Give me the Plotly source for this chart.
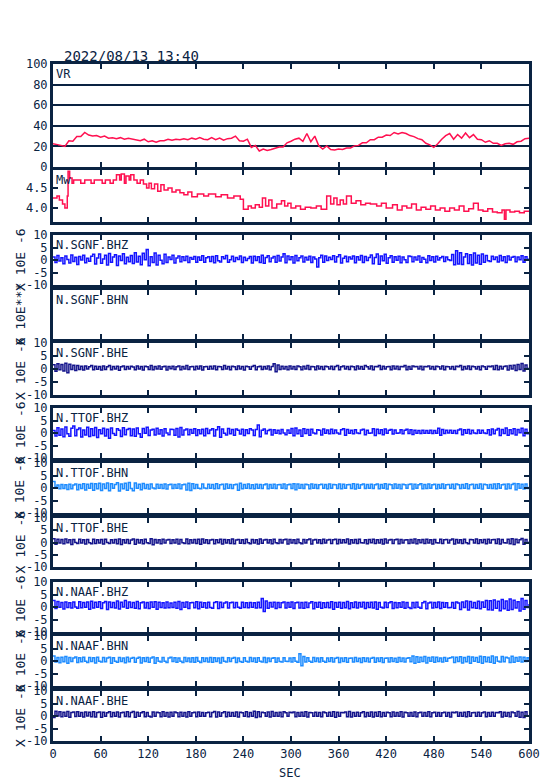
import plotly.graph_objects as go

# ---------------- data ----------------
TITLE = "2022/08/13 13:40"
X_TICKS = [0, 60, 120, 180, 240, 300, 360, 420, 480, 540, 600]

VR_T = list(range(0, 601, 5))
VR = [22.5, 22, 21, 20, 25.5, 25, 29.5, 29.5, 33.5, 31,
      30, 30.5, 29, 30, 28, 28.5, 27.5, 28.5, 27, 28,
      27, 26.5, 25.5, 27, 24.5, 25.5, 24, 25.5, 25.5, 27,
      26, 27, 26.5, 27.5, 26.5, 28, 27, 28.5, 27, 26.5,
      28.5, 26.5, 28, 26, 27.5, 28, 30, 25.5, 25, 27,
      19, 21, 15.5, 17.5, 16, 17, 18, 19.5, 19.5, 23.5,
      25, 27, 28, 25, 32.5, 24.5, 30, 20.5, 17.5, 20.5,
      17, 16.5, 17.5, 17, 18.5, 18.5, 20.5, 21, 23.5, 23.5,
      26.5, 26.5, 29, 29, 31, 30.5, 33.5, 32, 33.5, 32.5,
      30.5, 29.5, 27.5, 26.5, 23, 21.5, 19, 22.5, 27, 30.5,
      32.5, 27, 31.5, 28, 33, 28.5, 31.5, 27, 26.5, 24,
      25.5, 23, 23, 21, 22.5, 23, 22, 24.5, 25, 27.5,
      28]

MW_T = [0, 5, 8, 12, 15, 18, 19, 21, 24, 26, 32, 35, 40, 45, 48, 52, 60, 62, 66, 72,
        76, 80, 84, 86, 90, 92, 96, 98, 102, 106, 110, 114, 118, 121, 124, 128, 132,
        136, 140, 145, 150, 155, 160, 165, 170, 175, 182, 190, 196, 205, 212, 220,
        228, 236, 240, 246, 250, 255, 260, 264, 268, 272, 276, 282, 288, 292, 296,
        300, 306, 312, 318, 325, 332, 338, 345, 350, 354, 358, 362, 366, 370, 376,
        382, 388, 394, 400, 408, 414, 420, 428, 434, 440, 446, 452, 458, 464, 470,
        476, 482, 488, 494, 500, 506, 512, 518, 524, 530, 536, 542, 548, 554, 560,
        566, 569, 571, 576, 582, 588, 594, 600]
MW = [4.25, 4.3, 4.2, 4.1, 4.0, 4.3, 4.92, 4.75, 4.62, 4.7, 4.7, 4.62, 4.7, 4.7, 4.62,
      4.7, 4.7, 4.62, 4.7, 4.62, 4.7, 4.83, 4.7, 4.85, 4.62, 4.8, 4.7, 4.83, 4.7, 4.62,
      4.7, 4.6, 4.5, 4.62, 4.48, 4.6, 4.42, 4.58, 4.45, 4.5, 4.4, 4.45, 4.38, 4.33,
      4.4, 4.28, 4.35, 4.3, 4.35, 4.28, 4.33, 4.25, 4.3, 4.22, 3.97, 4.05, 4.0, 4.08,
      4.02, 4.25, 4.05, 4.2, 4.0, 4.1, 4.18, 4.05, 4.12, 4.0, 4.05, 3.97, 4.02, 4.0,
      4.05, 3.97, 4.3, 4.1, 4.25, 4.08, 4.2, 4.1, 4.3, 4.12, 4.18, 4.08, 4.12, 4.1,
      4.05, 4.12, 4.0, 4.08, 3.95, 4.05, 4.0, 4.1, 3.95, 4.02, 3.97, 4.05, 3.95, 4.0,
      3.92, 4.0, 3.95, 4.05, 3.92, 3.98, 4.12, 3.95, 3.92, 3.98, 3.9, 3.88, 3.95,
      3.72, 3.95, 3.9, 3.92, 3.88, 3.92, 3.9]

# seismic channels: one sample every 2.5 s, 0 .. 600 s
SEIS_DT = 2.5

SGNF_BHZ = [1.2, -1.0, 1.8, -0.4, 0.9, -1.5, 1.6, 0.2, -1.2, 2.0, -0.6, 1.1, -1.8, 1.4, 0.0, 1.9, -1.1, 0.7, -0.5, 1.5,
            2.3, -1.6, 0.8, 2.4, -1.3, 0.4, 1.9, -2.0, 2.6, -0.9, 1.2, 2.1, -2.2, 1.6, -0.2, 2.5, -1.5, 1.1, -0.7, 1.8,
            -1.4, 2.9, -0.8, 1.5, -1.9, 2.7, 0.1, 4.2, -2.3, 1.3, -1.0, 2.8, -2.0, 1.9, -0.1, -1.5, 2.3, -1.0, 1.2, 0.2,
            1.9, -1.2, 0.8, 1.6, -0.7, 1.3, -0.2, 1.5, -1.0, 1.0, 0.3, 1.4, -0.9, 1.2, -0.1, 1.7, -0.9, 0.9, 1.3, -0.6,
            1.4, -1.1, 1.7, -0.3, -0.8, 1.3, 0.5, 1.8, -0.9, 0.1, 1.5, -0.6, 1.0, 0.2, 1.6, -1.0, 1.1, -0.2, 0.6, 1.4,
            -1.2, 1.5, -0.2, 1.3, -1.0, 1.9, -1.3, 1.0, 1.7, -0.7, 0.8, 1.4, -0.9, 1.8, -0.4, 1.2, 2.5, -1.1, 1.6, 0.1,
            1.3, -1.2, 1.8, -0.3, 0.9, 1.6, -0.8, 1.1, 0.0, 1.5, -1.0, 1.2, 0.4, -2.8, 0.9, 1.9, -0.9, 1.6, -0.2, 1.1,
            0.2, 1.7, -0.8, 1.3, 2.1, -1.2, 0.7, 1.5, -0.7, 1.2, 0.4, 1.6, -1.1, 1.3, 0.0, 1.8, -1.0, 1.4, -0.2, 1.0,
            2.0, -1.5, 1.0, 2.4, -1.7, 1.6, -0.3, 2.3, -1.3, 0.9, 1.7, -0.9, 1.3, -0.1, 1.5, -1.1, 1.2, 0.1, -1.0, 1.6,
            1.4, -0.7, 1.2, 0.0, 1.6, -0.9, 1.0, 0.3, -1.1, 1.7, -0.2, 1.3, -0.8, 1.5, 0.0, 0.9, 1.4, -0.6, 1.2, 0.1,
            -0.2, 2.2, -1.9, 3.7, -1.6, 2.9, -1.8, 1.2, 2.5, -1.4, 2.1, -2.0, 2.8, -1.2, 1.9, -1.7, 2.4, -0.9, 1.8, -0.3,
            -0.6, 1.5, 0.2, 1.2, -0.8, 1.8, -0.3, 1.3, -1.0, 1.6, 0.0, 1.1, 1.4, -0.7, 1.2, 0.1, 1.7, -0.9, 1.3, 0.3,
            0.4]

SGNF_BHE = [1.6, -0.9, 2.0, -0.3, 1.7, -0.8, 2.2, -1.4, 1.8, -0.2, 1.4, -0.6, 1.3, -0.2, 1.1, -0.4, 1.2, 0.0, 0.9, 1.3,
            -0.3, 1.1, -0.1, 1.0, -0.4, 1.2, -0.2, 0.9, 1.3, -0.3, 1.0, 0.0, 1.1, -0.5, 0.9, 1.2, -0.2, 1.0, 0.0, 1.1,
            0.8, -0.3, 1.2, 0.0, 1.0, -0.4, 1.1, 0.9, -0.2, 1.3, -0.3, 1.0, 0.0, 1.2, -0.1, 0.9, 1.1, -0.4, 1.0, 0.1,
            1.1, -0.2, 0.9, 1.2, -0.3, 1.0, 0.0, 1.3, -0.2, 0.9, 1.0, -0.3, 1.1, 0.0, 1.2, -0.4, 0.9, 1.0, -0.1, 1.1,
            0.0, 1.2, -0.3, 1.0, 0.9, -0.2, 1.3, 0.0, 1.0, -0.3, 1.1, 0.9, -0.2, 1.2, 0.0, 1.0, -0.4, 1.1, 0.9, -0.1,
            1.0, 1.3, -0.3, 0.9, 1.1, -0.2, 1.0, 0.0, 1.2, -0.3, 1.0, 2.0, -1.1, 1.5, -0.2, 1.1, 0.0, 1.0, -0.3, 1.2,
            0.0, 1.0, -0.2, 1.2, 0.9, -0.3, 1.1, 0.0, 1.3, -0.2, 1.0, 0.9, -0.3, 1.2, 0.0, 1.0, -0.2, 1.1, 0.9, 0.0,
            1.1, -0.2, 1.0, 1.3, -0.3, 0.9, 1.2, 0.0, 1.0, -0.2, 1.1, 0.9, -0.3, 1.2, 0.0, 1.0, -0.1, 1.3, 0.9, 0.0,
            1.2, -0.3, 1.0, 0.9, 1.3, -0.2, 1.1, 0.0, 0.9, 1.0, -0.3, 1.2, 0.0, 1.1, -0.2, 1.0, 0.9, 1.3, -0.3, 1.0,
            -0.1, 1.2, 0.9, 1.0, 0.0, 1.1, -0.3, 1.0, 0.9, 1.2, 0.0, 1.0, -0.2, 1.1, 0.9, 0.0, 1.2, -0.3, 1.0, 0.9,
            0.0, 1.0, -0.2, 1.1, 0.9, 1.3, -0.3, 1.0, 0.0, 1.2, -0.2, 1.1, 0.9, 0.0, 1.0, -0.3, 1.2, 0.9, -0.1, 1.1,
            0.9, 1.2, -0.2, 1.3, -0.3, 1.1, 0.0, 1.0, 1.2, -0.4, 1.3, 0.0, 1.4, -0.6, 1.7, -0.2, 2.1, -0.8, 1.5, 0.2,
            0.5]

TTOF_BHZ = [1.0, -1.2, 2.1, -0.9, 1.6, -1.5, 2.4, -0.3, -1.3, 1.9, 2.8, -1.1, 1.4, 2.0, -1.6, 1.2, -0.8, 2.3, -1.4, 1.7,
            -1.0, 2.2, -1.8, 1.3, -0.3, 1.9, -1.2, 1.5, -2.1, 2.0, -0.2, -0.9, 1.7, 1.1, -1.4, 2.1, -0.7, 1.4, 1.8, -1.1,
            1.6, -1.3, 2.0, -0.3, -1.7, 1.8, -0.1, 2.3, -1.0, 1.2, 1.5, -0.8, 1.9, -0.4, 1.3, -1.2, 1.7, 0.0, -0.7, 1.5,
            1.4, -0.9, 1.8, -1.6, 2.2, -0.8, 1.2, 1.6, -0.7, 1.4, -0.1, 1.7, -1.0, 1.3, -0.3, 1.5, -1.1, 1.8, -0.2, 1.2,
            1.7, -1.2, 1.3, 2.5, -1.7, 1.6, -0.1, -0.8, 1.8, -0.3, 1.4, -0.9, 1.6, 1.1, -0.4, 1.5, -1.0, 1.3, -0.2, 1.7,
            1.2, -1.0, 1.4, 3.2, -1.5, 1.1, 1.6, -0.3, 1.0, 1.4, -0.8, 1.3, -0.1, 1.1, -0.3, 1.4, 0.0, -0.7, 1.2, -0.1,
            1.8, -1.1, 2.0, -0.3, 1.2, -1.3, 1.7, -0.2, 1.4, -0.9, 1.5, 0.0, -0.3, 1.3, 1.1, -0.8, 1.6, -0.1, 1.2, -0.3,
            1.5, -0.2, 1.2, 0.0, -0.4, 1.3, 1.7, -0.9, 1.4, -0.1, 1.1, -0.3, 1.3, 0.0, -0.2, 1.2, 1.5, -0.7, 1.1, -0.1,
            0.0, 1.7, -1.0, 1.5, -0.2, 1.3, -0.7, 1.6, -0.1, 1.1, 1.4, -0.4, 1.2, -0.1, 0.0, 1.3, -0.3, 1.1, 1.5, -0.2,
            1.3, -0.6, 1.1, -0.1, 1.0, -0.2, 1.1, -0.1, 1.0, -0.1, 1.1, -0.2, 1.0, -0.1, 1.9, -0.9, 1.4, -0.2, 1.1, 0.0,
            1.1, -0.1, 1.0, -0.2, 1.2, 1.6, -0.7, 1.3, -0.1, 1.4, -0.3, 1.1, 0.0, -0.2, 1.2, -0.1, 1.1, 0.0, -0.2, 1.3,
            -0.8, 1.6, -0.3, 1.2, 1.8, -1.0, 1.4, -0.2, 2.0, -0.9, 1.3, -0.3, 1.7, -0.8, 1.4, 0.1, 1.9, -1.1, 1.5, -0.3,
            0.5]

TTOF_BHN = [2.6, 0.4, 1.2, -0.3, 1.4, -0.2, 1.3, -0.6, 1.5, -0.3, 1.2, 1.6, -0.7, 1.4, -0.2, 1.7, -0.8, 1.5, -0.1, 1.8,
            -0.9, 1.7, -0.3, 1.9, -1.0, 1.6, -0.2, 2.0, -1.1, 1.7, -0.1, 1.4, 2.1, -1.2, 1.6, -0.3, 1.9, -0.9, 2.2, -0.2,
            -1.1, 2.0, -0.1, 1.5, -0.7, 1.8, -0.2, 1.4, -0.4, 1.6, 0.0, -0.3, 1.5, -0.1, 1.4, -0.2, 1.6, -0.4, 1.3, 1.5,
            -0.2, 1.4, -0.1, 1.6, -0.3, 1.3, 1.5, -0.8, 1.9, -1.0, 1.7, -0.2, 1.4, -0.1, -0.3, 1.6, 0.0, -0.2, 1.5, -0.1,
            1.4, -0.3, 1.7, -0.2, 1.3, 1.5, -0.4, 1.6, -0.1, 1.4, -0.2, 1.3, 1.5, -0.9, 1.9, -0.3, 1.4, -0.1, 1.6, -0.2,
            1.3, -0.3, 1.5, -0.1, 1.4, -0.2, 1.3, 1.6, -0.3, 1.4, -0.1, 1.5, -0.2, 1.3, 1.4, -0.1, 1.6, -0.3, 1.3, 1.5,
            -0.2, 1.7, -0.7, 1.6, -0.1, 1.4, -0.2, 1.5, 1.3, -0.3, 1.6, -0.1, 1.4, -0.2, 1.3, 1.5, -0.1, 1.4, -0.3, 1.6,
            -0.1, 1.4, 1.3, -0.2, 1.6, -0.3, 1.5, -0.1, 1.3, 1.4, -0.2, 1.7, -0.4, 1.5, -0.1, 1.3, 1.6, -0.2, 1.4, -0.1,
            1.5, -0.2, 1.3, 1.6, -0.3, 1.4, -0.1, 1.7, -0.4, 1.5, 1.3, -0.2, 1.6, -0.1, 1.4, -0.3, 1.5, 1.3, -0.1, 1.4,
            1.6, -0.4, 1.5, -0.1, 1.3, 1.7, -0.3, 1.4, -0.2, 1.6, -0.1, 1.3, 1.5, -0.3, 1.4, -0.1, 1.6, -0.2, 1.3, 1.4,
            -0.1, 1.5, -0.3, 1.6, 1.3, -0.2, 1.4, -0.1, 1.7, -0.3, 1.3, 1.5, -0.2, 1.4, -0.1, 1.6, -0.4, 1.5, 1.3, -0.1,
            1.4, -0.2, 1.6, -0.3, 1.7, -0.1, 1.3, 1.5, -0.4, 1.6, -0.2, 1.4, 1.8, -0.7, 1.7, -0.1, 1.5, -0.4, 1.6, -0.2,
            0.5]

TTOF_BHE = [1.5, -0.7, 1.3, -0.2, 1.2, -0.5, 1.4, -0.1, 1.1, -0.8, 1.2, 0.0, -0.4, 1.3, -0.2, 1.1, -0.6, 1.2, -0.1, -0.5,
            1.3, -0.4, 1.1, -0.2, 1.2, -0.6, 1.3, 0.0, -0.4, 1.1, -0.2, 1.2, -0.5, 1.4, -0.8, 1.1, -0.2, 1.2, -0.4, 1.0,
            1.4, -0.7, 1.2, -0.2, 1.1, -0.5, 1.3, -0.1, -0.4, 1.5, -0.9, 1.2, -0.2, 1.1, -0.5, 1.3, -0.2, 1.0, 1.2, -0.4,
            1.1, -0.2, 1.3, -0.6, 1.2, -0.1, -0.4, 1.4, -0.5, 1.1, -0.2, 1.2, -0.4, 1.3, -0.7, 1.4, -0.2, 1.1, -0.4, 1.0,
            1.2, -0.5, 1.1, -0.1, 1.3, -0.6, 1.2, -0.2, 1.1, -0.4, 1.4, -0.5, 1.0, 1.2, -0.3, 1.1, -0.4, 1.3, -0.1, -0.5,
            1.2, -0.2, 1.1, -0.6, 1.4, -0.3, 1.0, 1.2, -0.2, 1.1, -0.5, 1.3, -0.1, -0.4, 1.2, -0.2, 1.1, 1.3, -0.6, 1.2,
            -0.2, 1.1, -0.4, 1.3, -0.1, -0.5, 1.2, -0.2, 1.1, 1.4, -0.6, 1.0, 1.2, -0.2, 1.1, -0.4, 1.3, -0.2, 1.0, 1.2,
            -0.4, 1.1, 1.3, -0.5, 1.2, -0.2, 1.1, -0.1, 1.4, -0.6, 1.1, -0.2, 1.2, -0.4, 1.3, -0.1, -0.2, 1.1, -0.5, 1.2,
            -0.1, 1.3, -0.4, 1.1, -0.2, 1.2, -0.6, 1.4, -0.2, 1.0, 1.2, -0.4, 1.1, 1.3, -0.5, 1.2, -0.2, 1.0, 1.1, -0.4,
            1.2, -0.2, 1.4, -0.5, 1.1, -0.1, 1.2, -0.4, 1.3, -0.2, 1.1, -0.6, 1.2, -0.1, -0.2, 1.3, -0.4, 1.1, 1.2, -0.2,
            1.0, 1.4, -0.6, 1.2, -0.2, 1.1, -0.4, 1.3, -0.1, -0.5, 1.2, 1.1, -0.2, 1.4, -0.4, 1.1, -0.1, 1.2, -0.5, 1.3,
            -0.2, 1.1, 1.2, -0.4, 1.4, -0.6, 1.2, -0.1, -0.2, 1.3, -0.5, 1.5, -0.8, 1.3, -0.1, 1.1, 1.6, -0.7, 1.2, -0.2,
            0.4]

NAAF_BHZ = [2.6, -0.6, 2.2, -0.1, 1.8, -0.8, 2.0, -0.2, 1.7, -0.4, 2.0, 0.0, -0.5, 2.1, -0.3, 1.8, -0.1, 2.0, -0.9, 2.3,
            -0.4, 1.9, -0.1, 2.1, -0.6, 1.7, 2.2, -1.0, 2.0, -0.2, 1.8, -0.4, 2.4, -0.8, 1.9, 0.0, 2.6, -0.5, 2.0, -0.2,
            1.8, -0.5, 2.2, -0.7, 1.7, 2.0, -0.4, 1.8, -0.6, 2.0, -0.1, 2.1, -0.9, 1.9, -0.2, 1.7, -0.4, 2.0, -0.3, 1.6,
            -0.2, 1.9, -0.5, 2.2, -1.0, 1.8, -0.1, 2.0, -0.6, 1.7, 1.8, -0.3, 2.1, -0.7, 1.9, -0.1, 1.7, -0.4, 1.9, -0.2,
            -0.5, 1.8, 2.1, -0.6, 1.9, -0.2, 1.6, 2.0, -0.4, 1.7, 1.9, -0.3, 1.8, -0.1, -0.5, 1.9, -0.2, 1.7, -0.3, 1.8,
            -0.1, 1.7, -0.4, 1.9, -0.3, 3.4, -1.8, 2.4, -0.5, 1.8, 0.0, 1.9, -0.6, 1.8, -0.2, 1.7, 2.0, -0.4, 1.8, -0.1,
            2.0, -0.6, 1.7, 1.9, -0.4, 1.8, -0.5, 1.9, -0.2, 1.6, 2.1, -0.7, 1.8, -0.1, 1.9, -0.5, 1.7, -0.2, 1.8, -0.3,
            2.1, -0.9, 1.8, -0.1, 1.9, -0.5, 1.8, -0.3, 2.2, -0.7, 1.7, -0.2, 2.0, -0.4, 1.8, 0.0, 1.9, -0.6, 1.8, -0.2,
            1.9, -0.4, 2.0, -0.9, 1.8, -0.1, -0.4, 1.9, -0.2, 1.7, 2.1, -0.6, 1.8, -0.3, 1.7, -0.1, 2.0, -0.5, 1.8, -0.2,
            -0.6, 1.8, -0.3, 1.9, -0.1, -0.5, 1.7, 2.2, -0.7, 1.6, 1.9, -0.4, 1.8, -0.2, 2.0, -0.6, 1.8, -0.1, 1.7, -0.3,
            -0.2, 1.8, -0.5, 2.0, 1.6, -1.0, 2.0, -0.2, 2.4, -1.2, 2.2, -0.3, 1.8, -0.5, 2.3, -0.7, 2.0, -0.1, 2.6, -1.1,
            2.5, -1.2, 2.8, -0.5, 2.3, -1.5, 3.0, -0.7, 2.4, -1.3, 3.2, -1.0, 2.7, -0.4, 2.1, -1.6, 3.4, -0.9, 2.6, -0.2,
            1.2]

NAAF_BHN = [2.0, -0.4, 1.4, -0.7, 1.5, -0.3, 1.8, -0.9, 1.4, -0.2, 1.2, 1.6, -0.6, 1.3, -0.3, 1.5, -0.1, -0.6, 1.4, -0.2,
            1.3, -0.8, 1.5, -0.1, -0.4, 1.4, -0.3, 1.2, 1.5, -0.9, 1.3, -0.1, -0.5, 1.4, -0.2, 1.2, -0.7, 1.5, -0.3, 1.1,
            1.4, -0.5, 1.1, 1.5, -0.8, 1.3, -0.2, 1.4, -0.5, 1.2, 1.6, -0.9, 1.3, -0.1, -0.4, 1.4, -0.1, -0.6, 1.2, 1.5,
            -0.2, 1.3, -0.5, 1.2, -0.1, -0.6, 1.4, -0.2, 1.2, -0.4, 1.3, -0.5, 1.4, -0.1, -0.6, 1.3, -0.2, 1.2, -0.4, 1.4,
            -0.5, 1.3, -0.2, 1.2, -0.8, 1.4, -0.1, -0.4, 1.3, -0.2, 1.1, 1.4, -0.6, 1.2, -0.2, -0.5, 1.3, -0.1, -0.4, 1.4,
            -0.2, 1.2, -0.5, 1.3, -0.1, -0.4, 1.4, -0.6, 1.2, -0.2, 1.1, 1.3, -0.5, 1.2, -0.2, -0.4, 1.3, -0.1, -0.2, 1.2,
            -0.4, 1.3, -0.1, -0.5, 2.9, -1.9, 1.8, -0.4, 1.3, -0.1, -0.5, 1.4, -0.2, 1.2, -0.4, 1.3, -0.1, -0.5, 1.2, -0.2,
            1.3, -0.4, 1.1, 1.4, -0.6, 1.2, -0.2, 1.3, -0.5, 1.1, 1.2, -0.4, 1.4, -0.2, 1.1, -0.6, 1.3, -0.2, 1.2, -0.4,
            1.1, 1.4, -0.5, 1.2, -0.2, 1.3, -0.6, 1.1, 1.2, -0.4, 1.3, -0.2, 1.1, -0.5, 1.4, -0.2, 1.2, -0.4, 1.1, 1.3,
            -0.3, 2.0, -0.9, 1.7, -0.5, 1.5, -0.2, 1.8, -0.8, 1.4, -0.1, 1.6, -0.5, 1.5, -0.2, 1.2, -0.4, 1.4, -0.1, 1.1,
            1.3, 1.6, -0.6, 1.5, -0.2, 1.7, -0.8, 1.4, -0.3, 1.8, -0.9, 1.6, -0.1, 1.4, -0.5, 1.9, -0.9, 1.7, -0.3, 1.5,
            -0.5, 2.0, -0.9, 1.6, -0.1, -0.4, 1.8, -0.3, 1.5, 1.2, -0.6, 1.9, -0.5, 1.4, -0.1, 1.6, -0.4, 1.5, -0.2, 1.3,
            0.3]

NAAF_BHE = [-0.6, 1.9, 0.0, 1.7, -0.3, 1.5, -0.1, 1.8, -0.5, 1.4, 1.6, -0.2, 1.7, -0.1, 1.4, -0.4, 1.6, 0.0, 1.5, -0.3,
            1.7, -0.4, 1.4, 1.6, -0.5, 1.5, -0.1, 1.3, 1.7, -0.3, 1.4, -0.1, 1.6, -0.4, 1.3, 1.5, -0.2, 1.7, -0.3, 1.4,
            1.8, -0.5, 1.5, -0.1, 1.3, 1.7, -0.3, 1.4, -0.1, -0.4, 1.6, -0.1, 1.5, 1.3, -0.3, 1.7, -0.1, 1.4, -0.4, 1.5,
            -0.1, 1.6, 1.3, -0.3, 1.5, -0.1, 1.4, -0.4, 1.7, -0.1, 1.3, 1.5, -0.3, 1.6, -0.1, 1.4, -0.1, 1.3, 1.5, -0.3,
            1.4, 1.8, -0.4, 1.6, -0.1, 1.3, 1.7, -0.3, 1.5, -0.1, 1.4, -0.1, 1.6, -0.4, 1.5, 1.3, -0.1, 1.7, -0.3, 1.4,
            -0.1, 1.9, -0.6, 1.7, -0.3, 1.5, 1.3, -0.1, 1.6, -0.4, 1.8, -0.1, 1.4, -0.1, 1.5, -0.3, 1.7, 1.3, -0.1, 1.5,
            1.3, 1.6, -0.3, 1.4, -0.1, 1.5, -0.1, 1.7, -0.4, 1.4, 1.3, -0.1, 1.5, -0.1, 1.4, -0.3, 1.6, 1.3, -0.1, 1.5,
            -0.1, 1.7, -0.5, 1.5, -0.1, 1.4, 1.3, 1.6, -0.3, 1.8, -0.4, 1.4, -0.1, 1.5, -0.1, 1.3, 1.7, -0.3, 1.4, -0.1,
            1.6, -0.4, 1.5, -0.1, 1.7, -0.3, 1.4, -0.1, 1.5, 1.3, -0.3, 1.6, -0.1, 1.4, -0.1, 1.7, -0.4, 1.5, 1.3, -0.1,
            1.4, -0.1, 1.6, -0.3, 1.3, 1.5, -0.1, 1.4, -0.1, 1.7, -0.3, 1.3, 1.5, -0.1, 1.4, -0.1, 1.3, 1.5, -0.1, 1.4,
            -0.4, 1.5, 1.3, 1.6, -0.1, 1.4, -0.1, 1.5, -0.3, 1.7, -0.1, 1.3, 1.4, -0.1, 1.5, -0.1, 1.3, 1.6, -0.3, 1.4,
            -0.1, 1.5, -0.1, 1.4, 1.3, 1.7, -0.4, 1.5, -0.1, 1.4, -0.3, 1.6, 1.3, -0.1, 1.8, -0.5, 1.5, -0.6, 1.7, -0.1,
            0.4]

SEIS_TICKVALS = [-10, -5, 0, 5, 10]
SEIS_TICKTEXT = ["-10", "-5", "0", "5", "10"]


def seis_t(values):
    return [i * SEIS_DT for i in range(len(values))]


# ---------------- style / layout ----------------
BODY = 8                      # default page margin of the html body
PAGE_W, PAGE_H = 554, 781
W, H = PAGE_W - BODY, PAGE_H - BODY
PL, PR, PT, PB = 53, 529, 64, 741     # plot area in page pixels
ML, MT = PL - BODY, PT - BODY
MR = W - (PR - BODY)
MB = H - (PB - BODY)
PW, PH = PR - PL, PB - PT

FRAME = "#0a2342"
TXT = "#0a2342"
RED = "#ff1050"
BLUE = "#1414ff"
LBLUE = "#1e8cff"
NAVY = "#14148c"
FONT = "DejaVu Sans Mono"

# panel pixel extents in page pixels (top, bottom)
PANEL_PX = [(64, 167), (170, 222), (235, 285), (290, 339), (343, 395),
            (408, 458), (463, 513), (518, 567), (582, 632), (636, 686), (691, 741)]

panels = [
    dict(label="VR", x=VR_T, y=VR, color=RED, shape="linear", rng=[0, 100],
         tv=[0, 20, 40, 60, 80, 100], tt=["0", "20", "40", "60", "80", "100"], grid=True, ytitle=None),
    dict(label="Mw", x=MW_T, y=MW, color=RED, shape="hv", rng=[3.65, 4.95],
         tv=[4.0, 4.5], tt=["4.0", "4.5"], grid=False, ytitle=None),
    dict(label="N.SGNF.BHZ", x=seis_t(SGNF_BHZ), y=SGNF_BHZ, color=BLUE, shape="hv", rng=[-10, 10],
         tv=SEIS_TICKVALS, tt=SEIS_TICKTEXT, grid=False, ytitle="X 10E -6"),
    dict(label="N.SGNF.BHN", x=None, y=None, color=LBLUE, shape="hv", rng=[-10, 10],
         tv=[], tt=[], grid=False, ytitle="X 10E***"),
    dict(label="N.SGNF.BHE", x=seis_t(SGNF_BHE), y=SGNF_BHE, color=NAVY, shape="hv", rng=[-10, 10],
         tv=SEIS_TICKVALS, tt=SEIS_TICKTEXT, grid=False, ytitle="X 10E -6"),
    dict(label="N.TTOF.BHZ", x=seis_t(TTOF_BHZ), y=TTOF_BHZ, color=BLUE, shape="hv", rng=[-10, 10],
         tv=SEIS_TICKVALS, tt=SEIS_TICKTEXT, grid=False, ytitle="X 10E -6"),
    dict(label="N.TTOF.BHN", x=seis_t(TTOF_BHN), y=TTOF_BHN, color=LBLUE, shape="hv", rng=[-10, 10],
         tv=SEIS_TICKVALS, tt=SEIS_TICKTEXT, grid=False, ytitle="X 10E -6"),
    dict(label="N.TTOF.BHE", x=seis_t(TTOF_BHE), y=TTOF_BHE, color=NAVY, shape="hv", rng=[-10, 10],
         tv=SEIS_TICKVALS, tt=SEIS_TICKTEXT, grid=False, ytitle="X 10E -6"),
    dict(label="N.NAAF.BHZ", x=seis_t(NAAF_BHZ), y=NAAF_BHZ, color=BLUE, shape="hv", rng=[-10, 10],
         tv=SEIS_TICKVALS, tt=SEIS_TICKTEXT, grid=False, ytitle="X 10E -6"),
    dict(label="N.NAAF.BHN", x=seis_t(NAAF_BHN), y=NAAF_BHN, color=LBLUE, shape="hv", rng=[-10, 10],
         tv=SEIS_TICKVALS, tt=SEIS_TICKTEXT, grid=False, ytitle="X 10E -6"),
    dict(label="N.NAAF.BHE", x=seis_t(NAAF_BHE), y=NAAF_BHE, color=NAVY, shape="hv", rng=[-10, 10],
         tv=SEIS_TICKVALS, tt=SEIS_TICKTEXT, grid=False, ytitle="X 10E -6"),
]

fig = go.Figure()
layout = {}
annotations = []
n = len(panels)
for i, p in enumerate(panels):
    k = "" if i == 0 else str(i + 1)
    top, bot = PANEL_PX[i]
    dom = [(PB - bot) / PH, (PB - top) / PH]
    if p["x"] is not None:
        fig.add_trace(go.Scatter(x=p["x"], y=p["y"], mode="lines",
                                 line=dict(color=p["color"], width=1.5, shape=p["shape"]),
                                 xaxis="x" + k, yaxis="y" + k, showlegend=False,
                                 hoverinfo="skip"))
    else:
        # empty channel: keep the frame drawn
        fig.add_trace(go.Scatter(x=[0, 600], y=[None, None], mode="lines",
                                 xaxis="x" + k, yaxis="y" + k, showlegend=False,
                                 hoverinfo="skip"))
    last = (i == n - 1)
    layout["xaxis" + k] = dict(
        domain=[0, 1], range=[0, 600], anchor="y" + k,
        showline=True, linewidth=3, linecolor=FRAME, mirror="allticks",
        ticks="inside", ticklen=5, tickwidth=1.5, tickcolor=FRAME,
        tickvals=X_TICKS, showticklabels=last, showgrid=False, zeroline=False,
        tickfont=dict(family=FONT, size=12, color=TXT), fixedrange=True,
        **({} if i == 0 else {"matches": "x"}))
    layout["yaxis" + k] = dict(
        domain=dom, range=p["rng"], anchor="x" + k,
        showline=True, linewidth=3, linecolor=FRAME, mirror="allticks",
        ticks="inside" if p["tv"] else "", ticklen=5, tickwidth=1.5, tickcolor=FRAME,
        tickvals=p["tv"], ticktext=p["tt"], showticklabels=bool(p["tv"]),
        showgrid=p["grid"], gridcolor=FRAME, gridwidth=2, zeroline=False,
        tickfont=dict(family=FONT, size=12, color=TXT), fixedrange=True)
    annotations.append(dict(text=p["label"], xref="paper", yref="paper",
                            x=0, y=dom[1], xanchor="left", yanchor="top",
                            xshift=1, yshift=-1, showarrow=False,
                            font=dict(family=FONT, size=12, color=TXT)))
    if p["ytitle"]:
        annotations.append(dict(text=p["ytitle"], xref="paper", yref="paper",
                                x=(20 - PL) / PW, y=(dom[0] + dom[1]) / 2,
                                xanchor="center", yanchor="middle", textangle=-90,
                                showarrow=False,
                                font=dict(family=FONT, size=13, color=TXT)))

annotations.append(dict(text=TITLE, xref="paper", yref="paper",
                        x=(62 - PL) / PW, y=1, xanchor="left", yanchor="bottom", yshift=-2,
                        showarrow=False, font=dict(family=FONT, size=14, color=TXT)))
annotations.append(dict(text="SEC", xref="paper", yref="paper",
                        x=(290 - PL) / PW, y=-(773 - PB) / PH, xanchor="center", yanchor="middle",
                        showarrow=False, font=dict(family=FONT, size=12, color=TXT)))

fig.update_layout(width=W, height=H, margin=dict(l=ML, r=MR, t=MT, b=MB, autoexpand=False),
                  paper_bgcolor="white", plot_bgcolor="white",
                  annotations=annotations, showlegend=False, **layout)

fig.write_html("out.html")
